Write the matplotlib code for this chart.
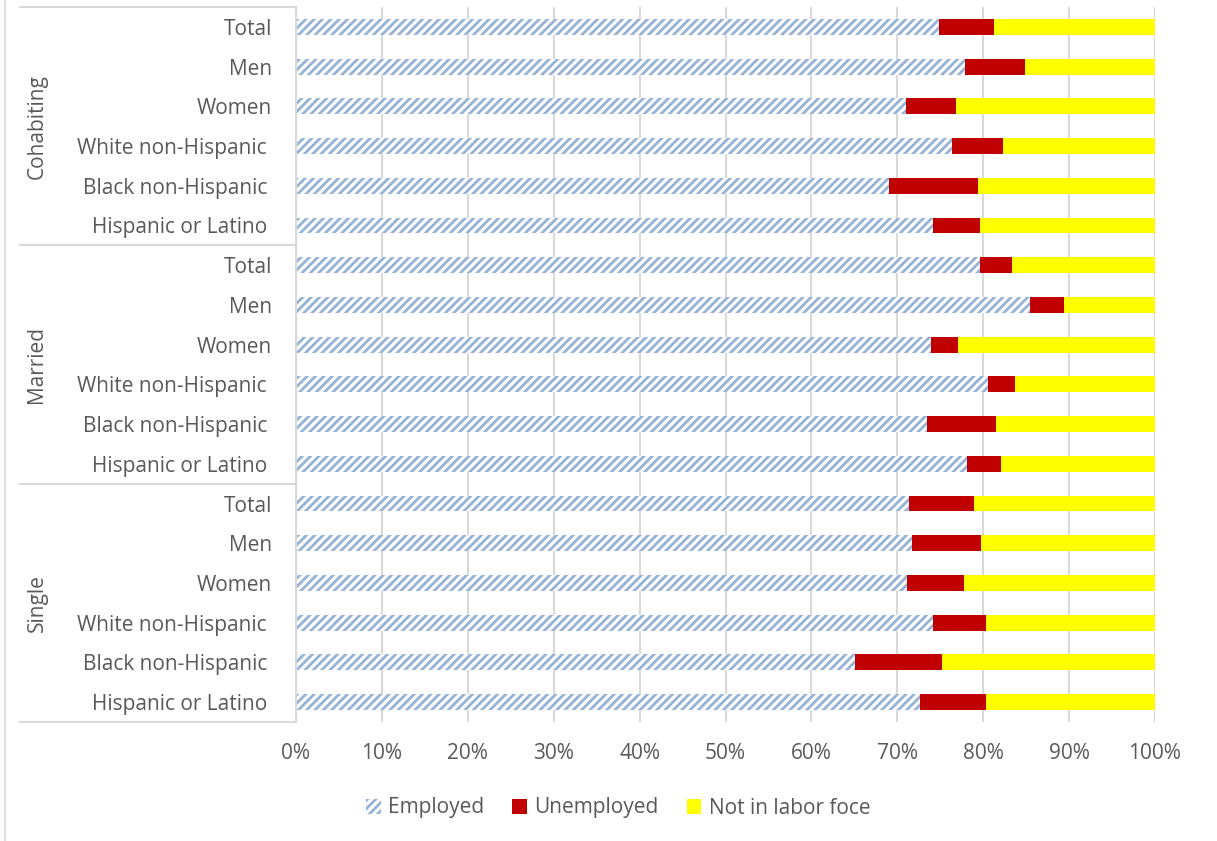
import numpy as np
import matplotlib.pyplot as plt
from matplotlib import transforms

plt.rcParams['font.family'] = ['Open Sans', 'DejaVu Sans']
plt.rcParams['hatch.linewidth'] = 2.0

# grupos y categorias (de arriba hacia abajo)
grupos = ["Cohabiting", "Married", "Single"]
categorias = ["Total", "Men", "Women", "White non-Hispanic ", "Black non-Hispanic ", "Hispanic or Latino "]

# porcentajes por grupo, en el mismo orden que las categorias
empleados_cohab = [74.8, 77.9, 71.0, 76.4, 69.0, 74.1]
desempleados_cohab = [6.4, 7.0, 5.8, 5.9, 10.4, 5.5]
empleados_casados = [79.6, 85.4, 73.9, 80.6, 73.5, 78.1]
desempleados_casados = [3.7, 4.0, 3.2, 3.1, 8.0, 4.0]
empleados_solteros = [71.4, 71.7, 71.1, 74.1, 65.1, 72.6]
desempleados_solteros = [7.5, 8.0, 6.7, 6.2, 10.1, 7.7]

empleados = np.array(empleados_cohab + empleados_casados + empleados_solteros) / 100
desempleados = np.array(desempleados_cohab + desempleados_casados + desempleados_solteros) / 100
fuera = 1 - empleados - desempleados  # lo que queda hasta 100%

etiquetas = categorias * len(grupos)
y = np.arange(len(etiquetas))

gris = "#595959"
linea = "#D9D9D9"
tam = 15

fig = plt.figure(figsize=(12.17, 8.41), dpi=100)
ax = fig.add_axes([296 / 1217, 1 - 722 / 841, 859 / 1217, 715 / 841])

b1 = ax.barh(y, empleados, height=0.4, color="white", edgecolor="#95B3D7", hatch="////", linewidth=0, label="Employed")
b2 = ax.barh(y, desempleados, left=empleados, height=0.4, color="#C00000", label="Unemployed")
b3 = ax.barh(y, fuera, left=empleados + desempleados, height=0.4, color="#FFFF00", label="Not in labor foce")

ax.set_xlim(0, 1)
ax.set_ylim(len(etiquetas) - 0.5, -0.5)
ax.set_xticks(np.arange(0, 1.01, 0.1))
ax.set_xticklabels([f"{int(round(v * 100))}%" for v in np.arange(0, 1.01, 0.1)])
ax.set_yticks(y)
ax.set_yticklabels(etiquetas)
ax.tick_params(axis="both", length=0, labelsize=tam, labelcolor=gris)
ax.tick_params(axis="y", pad=17)
ax.tick_params(axis="x", pad=15)
ax.grid(axis="x", color=linea, linewidth=1.5)
ax.set_axisbelow(True)
for lado in ["top", "right", "bottom"]:
    ax.spines[lado].set_visible(False)
ax.spines["left"].set_color(linea)
ax.spines["left"].set_linewidth(1.5)

# lineas separadoras de los grupos y sus nombres
trans = transforms.blended_transform_factory(ax.transAxes, ax.transData)
x0 = (20 - 296) / 859
for borde in [-0.5, 5.5, 11.5, 17.5]:
    ax.plot([x0, 0], [borde, borde], color=linea, linewidth=1.5, transform=trans, clip_on=False)
for i, g in enumerate(grupos):
    ax.text((37 - 296) / 859, i * 6 + 2.5, g, rotation=90, ha="center", va="center",
            fontsize=tam, color=gris, transform=trans)

# borde izquierdo del area del grafico
fig.add_artist(plt.Line2D([5 / 1217, 5 / 1217], [0, 1], color=linea, linewidth=1.2))

fig.legend(handles=[b1, b2, b3], loc="center", bbox_to_anchor=(0.508, 1 - 808 / 841), ncol=3,
           frameon=False, fontsize=tam, labelcolor=gris, handlelength=0.7, handleheight=0.7,
           handletextpad=0.35, columnspacing=1.35)

fig.savefig("out.png", dpi=100)
